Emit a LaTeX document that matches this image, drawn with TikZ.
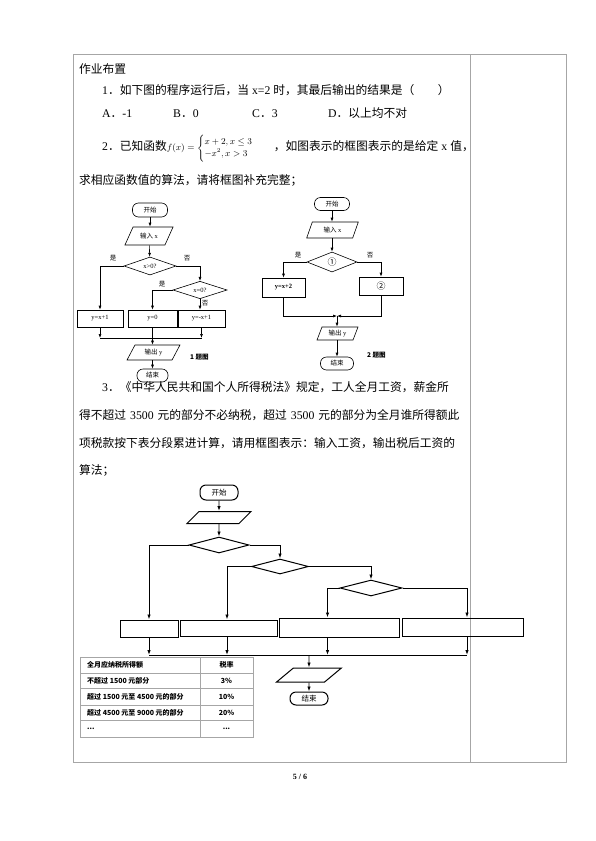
\documentclass[tikz,border=0pt]{standalone}
\usepackage{amsmath}
\usepackage{fontspec}
\setmainfont{Liberation Serif}
\newfontfamily\cjk{Noto Sans CJK SC}
\usetikzlibrary{arrows.meta, shapes.geometric, positioning}
\XeTeXlinebreaklocale "zh"
\XeTeXlinebreakskip=0pt plus 3pt

\begin{document}
\begin{tikzpicture}[x=1pt, y=-1pt,
  txt/.style={anchor=base west, inner sep=0, font=\fontsize{11.75}{14}\selectfont},
  fc/.style={inner sep=0, font=\fontsize{6.5}{7}\selectfont, line width=0.6pt},
  term/.style={fc, draw, rounded corners=6pt},
  proc/.style={fc, draw},
  slantio/.style={fc, draw, xslant=#1},
  dec/.style={fc, draw, diamond},
  lbl/.style={inner sep=0, font=\cjk\fontsize{6.5}{7}\selectfont},
  capt/.style={inner sep=0, anchor=west, font=\cjk\bfseries\fontsize{6.5}{7}\selectfont},
  arr/.style={-{Latex[length=4pt,width=3pt]}, line width=0.6pt},
  thick3/.style={line width=1pt},
  arr3/.style={-{Latex[length=5pt,width=3.5pt]}, line width=0.9pt},
  tab/.style={inner sep=0, font=\cjk\bfseries\fontsize{7}{8}\selectfont},
  rule/.style={gray!70, line width=0.6pt}
]
\useasboundingbox (0,0) rectangle (595,841);

% marco de la tabla
\draw[gray!70, line width=0.8pt] (73,54) rectangle (566,762);
\draw[gray!70, line width=0.8pt] (470,54) -- (470,762);

% enunciados
\node[txt] (tit) at (79,73.5) {{\cjk 作业布置}};
\node[txt] (l1) at (102,94.5) {1{\cjk ．如下图的程序运行后，当} x=2 {\cjk 时，其最后输出的结果是（　　）}};
\node[txt] (qa) at (102,117.5) {A{\cjk ．}-1};
\node[txt] (qb) at (173,117.5) {B{\cjk ．}0};
\node[txt] (qc) at (252,117.5) {C{\cjk ．}3};
\node[txt] (qd) at (328,117.5) {D{\cjk ．以上均不对}};
\node[txt] (l2) at (102,150.5) {\makebox[360pt][s]{2{\cjk ．已知函数}{\fontsize{9}{10}\selectfont$f(x)=\begin{cases}x+2,x\le 3\\-x^{2},x>3\end{cases}$}\quad{\cjk ，如图表示的框图表示的是给定}\hspace{3pt}x\hspace{3pt}{\cjk 值，}}};
\node[txt] (l2b) at (79,184.5) {{\cjk 求相应函数值的算法，请将框图补充完整；}};

% 1 题图
\node[term, minimum width=35pt, minimum height=14pt] (k1) at (150,210) {\cjk 开始};
\node[slantio=0.45, minimum width=40pt, minimum height=18pt] (in1) at (149,236) {};
\node[fc] (in1t) at (in1) {{\cjk 输入} x};
\node[dec, minimum width=52pt, minimum height=18pt] (d1) at (150,266) {x>0?};
\node[dec, minimum width=54pt, minimum height=16pt] (d2) at (200,290) {x=0?};
\node[proc, minimum width=46pt, minimum height=17pt] (b1) at (100,318.5) {y=x+1};
\node[proc, minimum width=49pt, minimum height=17pt] (b2) at (152.5,318.5) {y=0};
\node[proc, minimum width=47pt, minimum height=17pt] (b3) at (201.5,318.5) {y=-x+1};
\node[slantio=0.53, minimum width=45pt, minimum height=15pt] (out1) at (153.5,352.5) {};
\node[fc] (out1t) at (out1) {{\cjk 输出} y};
\node[term, minimum width=31pt, minimum height=13pt] (e1) at (152.5,375.5) {\cjk 结束};
\node[capt] (cap1) at (190,357) {1 题图};
\node[lbl] (s1) at (113,258) {是};
\node[lbl] (n1) at (187,258) {否};
\node[lbl] (s2) at (162,284) {是};
\node[lbl] (n2) at (205,303) {否};
\coordinate (j1) at (100,338);
\coordinate (j2) at (201.5,338);
\draw[arr] (k1) -- (k1 |- in1.north);
\draw[arr] (in1) -- (d1);
\draw[arr] (d1.west) -| (b1);
\draw[arr] (d1.east) -| (d2);
\draw[arr] (d2.west) -| (b2);
\draw[arr] (d2) -- (d2 |- b3.north);
\draw[arr] (b1) -- (j1);
\draw[arr] (b3) -- (j2);
\draw[line width=0.6pt] (j1) -- (j2);
\draw[arr] (b2) -- (b2 |- out1.north);
\draw[arr] (e1 |- out1.south) -- (e1);

% 2 题图
\node[term, minimum width=35pt, minimum height=13pt] (k2) at (332,204) {\cjk 开始};
\node[slantio=0.35, minimum width=46pt, minimum height=16pt] (in2) at (332.5,230) {};
\node[fc] (in2t) at (in2) {{\cjk 输入} x};
\node[dec, minimum width=50pt, minimum height=20pt, font=\cjk\fontsize{9}{9}\selectfont] (d3) at (332,262) {①};
\node[proc, minimum width=43pt, minimum height=19pt, font=\bfseries\fontsize{6.5}{7}\selectfont] (b4) at (283.5,287.5) {y=x+2};
\node[proc, minimum width=44pt, minimum height=18pt, font=\cjk\fontsize{9}{9}\selectfont] (b5) at (381,286) {②};
\node[slantio=0.38, minimum width=36pt, minimum height=13pt] (out2) at (337.5,333.5) {};
\node[fc] (out2t) at (out2) {{\cjk 输出} y};
\node[term, minimum width=33pt, minimum height=13pt] (e2) at (337,363.5) {\cjk 结束};
\node[capt] (cap2) at (367,355) {2 题图};
\node[lbl] (s3) at (298,255) {是};
\node[lbl] (n3) at (370,255) {否};
\coordinate (j3) at (337,316);
\draw[arr] (k2) -- (k2 |- in2.north);
\draw[arr] (k2 |- in2.south) -- (d3);
\draw[arr] (d3.west) -| (b4);
\draw[arr] (d3.east) -| (b5);
\draw[arr] (b4) |- (j3);
\draw[arr] (b5) |- (j3);
\draw[arr] (j3) -- (j3 |- out2.north);
\draw[arr] (e2 |- out2.south) -- (e2);

% problema 3
\node[txt] (l3) at (102,391.5) {\makebox[361pt][s]{3{\cjk ．《中华人民共和国个人所得税法》规定，工人全月工资，薪金所}}};
\node[txt] (l4) at (79,419.5) {\makebox[384pt][s]{{\cjk 得不超过}\hspace{4pt}3500\hspace{4pt}{\cjk 元的部分不必纳税，超过}\hspace{4pt}3500\hspace{4pt}{\cjk 元的部分为全月谁所得额此}}};
\node[txt] (l5) at (79,447.5) {\makebox[380pt][s]{{\cjk 项税款按下表分段累进计算，请用框图表示：输入工资，输出税后工资的}}};
\node[txt] (l6) at (79,474.5) {{\cjk 算法；}};

% diagrama 3
\node[term, thick3, minimum width=38pt, minimum height=15pt, font=\cjk\fontsize{7.5}{8}\selectfont] (k3) at (219,492.5) {开始};
\node[slantio=1, thick3, minimum width=52pt, minimum height=12pt] (in3) at (219,517.5) {};
\node[dec, thick3, minimum width=60pt, minimum height=16pt] (d4) at (219,545) {};
\node[dec, thick3, minimum width=57pt, minimum height=15pt] (d5) at (280,566.5) {};
\node[dec, thick3, minimum width=62pt, minimum height=16pt] (d6) at (371,588) {};
\node[proc, thick3, minimum width=58pt, minimum height=17pt] (c1) at (149,628.5) {};
\node[proc, thick3, minimum width=97pt, minimum height=16pt] (c2) at (228.5,628) {};
\node[proc, thick3, minimum width=120pt, minimum height=19pt] (c3) at (339,627.5) {};
\node[proc, thick3, minimum width=121pt, minimum height=18pt] (c4) at (462.5,627) {};
\node[slantio=1.2, thick3, minimum width=48pt, minimum height=14pt] (out3) at (309,675) {};
\node[term, thick3, minimum width=38pt, minimum height=13pt, font=\cjk\fontsize{7.5}{8}\selectfont] (e3) at (309,698.5) {结束};
\coordinate (m1) at (149,655);
\coordinate (m2) at (227,655);
\coordinate (m3) at (327.5,655);
\coordinate (m4) at (467,655);
\draw[arr3] (k3) -- (in3);
\draw[arr3] (in3) -- (d4);
\draw[arr3] (d4.west) -| (m1 |- c1.north);
\draw[arr3] (d4.east) -| (d5);
\draw[arr3] (d5.west) -| (m2 |- c2.north);
\draw[arr3] (d5.east) -| (d6);
\draw[arr3] (d6.west) -| (m3 |- c3.north);
\draw[arr3] (d6.east) -| (m4 |- c4.north);
\draw[arr3] (m1 |- c1.south) -- (m1);
\draw[arr3] (m2 |- c2.south) -- (m2);
\draw[arr3] (m3 |- c3.south) -- (m3);
\draw[arr3] (m4 |- c4.south) -- (m4);
\draw[thick3] (m1) -- (m4);
\draw[arr3] (out3 |- m1) -- (out3);
\draw[arr3] (out3) -- (e3);

% tabla de tasas
\draw[rule] (80,657) rectangle (253,737);
\draw[rule] (200,657) -- (200,737);
\foreach \yy in {673,688,705,720} \draw[rule] (80,\yy) -- (253,\yy);
\node[tab, anchor=west] (t11) at (87,665) {全月应纳税所得额};
\node[tab] (t12) at (226.5,665) {税率};
\node[tab, anchor=west] (t21) at (87,680.5) {不超过 1500 元部分};
\node[tab] (t22) at (226.5,680.5) {3\%};
\node[tab, anchor=west] (t31) at (87,696.5) {超过 1500 元至 4500 元的部分};
\node[tab] (t32) at (226.5,696.5) {10\%};
\node[tab, anchor=west] (t41) at (87,712.5) {超过 4500 元至 9000 元的部分};
\node[tab] (t42) at (226.5,712.5) {20\%};
\node[tab, anchor=west] (t51) at (87,728.5) {...};
\node[tab] (t52) at (226.5,728.5) {...};

% pie de pagina
\node[inner sep=0, font=\bfseries\fontsize{8}{9}\selectfont] (pg) at (300,777) {5 / 6};
\end{tikzpicture}
\end{document}
